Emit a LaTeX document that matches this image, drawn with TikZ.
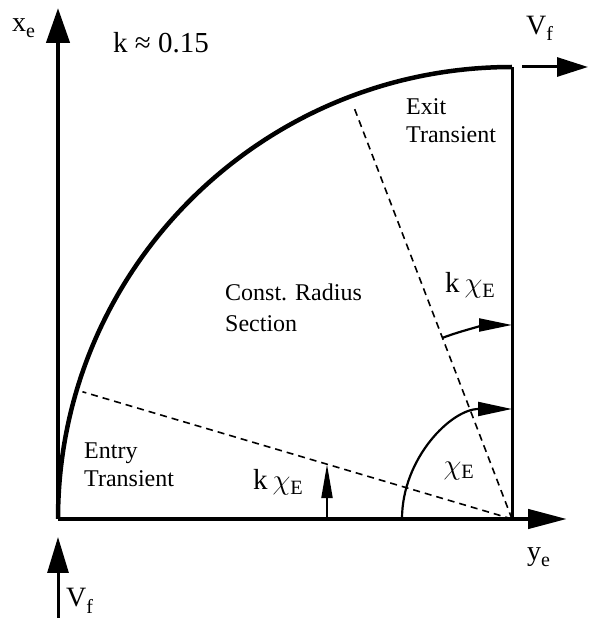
\RequirePackage{fix-cm}
\documentclass[tikz,border=0pt]{standalone}
\usepackage{fontspec}
\setmainfont{Liberation Serif}
\usetikzlibrary{arrows.meta,calc}
\newcommand{\mysub}[1]{\raisebox{-6pt}{\fontsize{20}{20}\selectfont #1}}
\begin{document}
\begin{tikzpicture}[x=1pt,y=1pt,
  axisline/.style={line width=4.5pt},
  curveline/.style={line width=4.5pt},
  flowline/.style={line width=3pt},
  dashline/.style={line width=1.6pt, dash pattern=on 7pt off 5pt},
  arcline/.style={line width=2.2pt},
  lbl/.style={inner sep=0pt, font=\fontsize{24}{28}\selectfont, align=left},
  mlbl/.style={inner sep=0pt, font=\fontsize{29}{32}\selectfont},
  axlbl/.style={inner sep=0pt, font=\fontsize{28}{30}\selectfont}]
\useasboundingbox (0,0) rectangle (589,625);
\coordinate (O) at (58,106);
\coordinate (C) at (512,106);
\coordinate (Xtip) at (58,617);
\coordinate (Ytip) at (567,106);
\coordinate (T) at (512,558);
\coordinate (Vs) at (522,558);
\coordinate (Ve) at (588,558);
\coordinate (Bs) at (58,7);
\coordinate (Be) at (58,88);
\coordinate (Dl) at ($(C)+(163.5:448)$);
\coordinate (Du) at ($(C)+(111:443)$);
\coordinate (kA) at (327,106);
\coordinate (kT) at (327,300);
\coordinate (kB) at (intersection of C--Dl and kA--kT);
\coordinate (aS) at ($(C)+(180:110)$);
\coordinate (uS) at ($(C)+(111:194)$);

% dashed section boundaries
\draw[dashline] (C) -- (Dl);
\draw[dashline] (C) -- (Du);

% axes
\draw[axisline, -{Triangle[length=35pt,width=23pt]}] (O) -- (Xtip);
\draw[axisline, -{Triangle[length=39pt,width=19pt]}] (O) -- (Ytip);

% path curve
\draw[curveline] (O) arc[start angle=180, end angle=90, x radius=454, y radius=452];
\draw[flowline] (C) -- (T);

% flow arrows
\draw[flowline, -{Triangle[length=31pt,width=19pt]}] (Vs) -- (Ve);
\draw[flowline, -{Triangle[length=36pt,width=21pt]}] (Bs) -- (Be);

% angle arrows
\draw[arcline, -{Triangle[length=34pt,width=14pt]}] (aS) arc[start angle=180, end angle=90, radius=110];
\draw[arcline, -{Triangle[length=33pt,width=13pt]}] (uS) arc[start angle=111, end angle=90, radius=194];
\draw[arcline, -{Triangle[length=34pt,width=11pt]}] (kA) -- (kB);

% labels
\node[axlbl, anchor=base west] (xe) at (12,593) {x\mysub{e}};
\node[axlbl, anchor=base west] (ye) at (527,64) {y\mysub{e}};
\node[axlbl, anchor=base west] (vftop) at (526,590) {V\mysub{f}};
\node[axlbl, anchor=base west] (vfbot) at (66,18) {V\mysub{f}};
\node[mlbl, anchor=base west] (kval) at (113,572) {k ≈ 0.15};
\node[lbl, anchor=north west] (exit) at (406,527) {Exit\\Transient};
\node[lbl, anchor=north west] (entry) at (84,182) {Entry\\Transient};
\node[lbl, anchor=north west, font=\fontsize{24}{31}\selectfont] (const) at (225,341) {Const. Radius\\Section};
\node[mlbl, anchor=base west] (klow) at (253,135) {k\,$\chi_{\mathrm{E}}$};
\node[mlbl, anchor=base west] (kup) at (445,332) {k\,$\chi_{\mathrm{E}}$};
\node[mlbl] (chie) at (459,154) {$\chi_{\mathrm{E}}$};
\end{tikzpicture}
\end{document}
